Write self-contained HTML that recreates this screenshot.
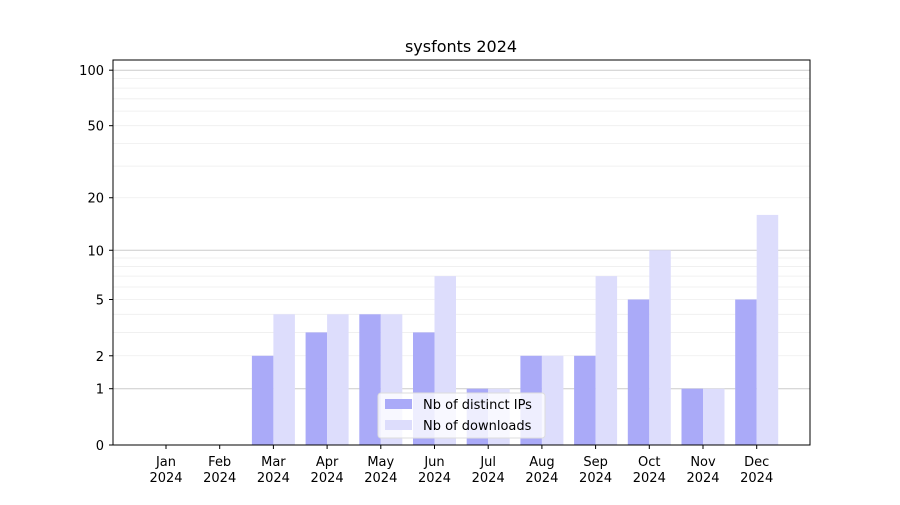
<!DOCTYPE html>
<html><head><meta charset="utf-8"><style>
body{margin:0;background:#fff;font-family:"Liberation Sans","DejaVu Sans",sans-serif;}
svg text{font-family:"DejaVu Sans","Liberation Sans",sans-serif;}
</style></head><body>
<svg id="chart" width="900" height="500">
<rect width="900" height="500" fill="#fff"/>
<text x="461" y="52" font-size="16" text-anchor="middle">sysfonts 2024</text>
<g id="grid"></g><g id="bars"></g><g id="axes"></g>
<rect x="113" y="60" width="697" height="385" fill="none" stroke="#000" stroke-width="1"/>
<g>
<rect x="378" y="393" width="167" height="45" rx="3" fill="#fff" fill-opacity="0.8" stroke="#ddd"/>
<rect x="385" y="399" width="27" height="10" fill="#aaaaf8"/>
<text x="423" y="409" font-size="13">Nb of distinct IPs</text>
<rect x="385" y="420" width="27" height="10" fill="#ddddfc"/>
<text x="423" y="430" font-size="13">Nb of downloads</text>
</g>
</svg>
<script>
const months=["Jan","Feb","Mar","Apr","May","Jun","Jul","Aug","Sep","Oct","Nov","Dec"];
const ips=[0,0,2,3,4,3,1,2,2,5,1,5];
const downloads=[0,0,4,4,4,7,1,2,7,10,1,16];
const yTicks=[0,1,2,5,10,20,50,100];
const ns="http://www.w3.org/2000/svg";
function y(v){return 445-187*Math.log10(1+v);}
function xc(i){return 166+i*53.7;}
function mk(tag,attrs,parent){const e=document.createElementNS(ns,tag);for(const k in attrs)e.setAttribute(k,attrs[k]);parent.appendChild(e);return e;}
const grid=document.getElementById('grid'),bars=document.getElementById('bars'),axes=document.getElementById('axes');
const minors=[2,3,4,5,6,7,8,9,20,30,40,50,60,70,80,90];
minors.forEach(v=>{const l=mk('line',{x1:113,x2:810,y1:y(v),y2:y(v),stroke:'#eee','stroke-width':0.8},grid);

});
[1,10,100].forEach(v=>{const l=mk('line',{x1:113,x2:810,y1:y(v),y2:y(v),stroke:'#ccc','stroke-width':1},grid);

});
months.forEach((m,i)=>{
 const b1=mk('rect',{x:xc(i)-21.5,y:y(ips[i]),width:21.5,height:445-y(ips[i]),fill:'#aaaaf8'},bars);
 
 
 const b2=mk('rect',{x:xc(i),y:y(downloads[i]),width:21.5,height:445-y(downloads[i]),fill:'#ddddfc'},bars);
 
 
 mk('line',{x1:xc(i),x2:xc(i),y1:445,y2:449,stroke:'#000'},axes);
 const t=mk('text',{x:xc(i),y:466,'font-size':13,'text-anchor':'middle'},axes);
 
 
 mk('tspan',{x:xc(i),dy:0},t).textContent=m;
 mk('tspan',{x:xc(i),dy:16},t).textContent='2024';
});
yTicks.forEach(v=>{
 mk('line',{x1:109,x2:113,y1:y(v),y2:y(v),stroke:'#000'},axes);
 const t=mk('text',{x:104,y:y(v)+5,'font-size':13,'text-anchor':'end'},axes);
 
 
 t.textContent=v;
});
</script>
</body></html>
